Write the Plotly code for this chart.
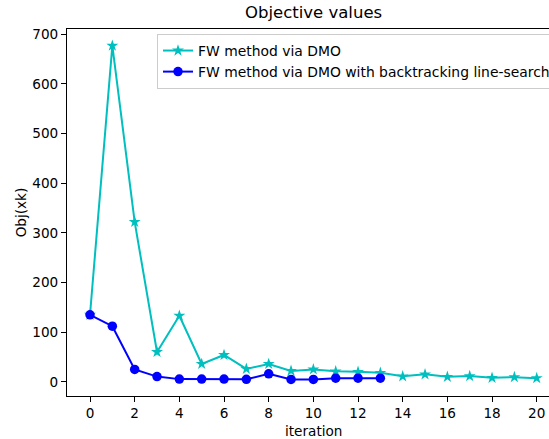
import plotly.graph_objects as go

iterations_fw = list(range(21))
obj_fw = [135, 677, 322, 60, 133, 36, 54, 26, 36, 22, 25, 21, 20, 18, 11, 15, 10, 11.5, 8, 9.4, 7.4]
iterations_bt = list(range(14))
obj_bt = [135, 112, 25, 10.5, 5.4, 5.4, 5.4, 5, 16, 4.8, 4.8, 7.4, 7.4, 7.4]
x_ticks = list(range(0, 21, 2))
y_ticks = list(range(0, 701, 100))

FONT = "DejaVu Sans"
FS = 13.6

fig = go.Figure()
fig.add_trace(go.Scatter(
    x=iterations_fw, y=obj_fw, mode="lines+markers", name="FW method via DMO",
    line=dict(color="#00BFBF", width=2),
    marker=dict(symbol="star", size=9, color="#00BFBF"),
))
fig.add_trace(go.Scatter(
    x=iterations_bt, y=obj_bt, mode="lines+markers",
    name="FW method via DMO with backtracking line-search",
    line=dict(color="#0000FF", width=2),
    marker=dict(symbol="circle", size=9.5, color="#0000FF"),
))

L, T, B = 67, 29, 43
W, H = 549, 439
plot_w = W - L

fig.update_layout(
    width=W, height=H,
    margin=dict(l=L, r=0, t=T, b=B, autoexpand=False),
    paper_bgcolor="white", plot_bgcolor="white",
    font=dict(family=FONT, size=FS, color="black"),
    showlegend=True,
    legend=dict(
        x=(157 - L) / plot_w, y=(H - B - 34) / (H - T - B),
        xanchor="left", yanchor="top",
        bgcolor="rgba(255,255,255,0.8)", bordercolor="#cccccc", borderwidth=1,
        font=dict(family=FONT, size=13.9, color="black"),
        itemwidth=30, tracegroupgap=0,
    ),
    xaxis=dict(
        range=[-1.03, 20.55], tickvals=x_ticks, ticks="outside", ticklen=5, tickwidth=1,
        tickcolor="black", showline=True, linecolor="black", linewidth=1, mirror=True,
        showgrid=False, zeroline=False, tickfont=dict(family=FONT, size=FS),
    ),
    yaxis=dict(
        range=[-28.6, 710.6], tickvals=y_ticks, ticks="outside", ticklen=5, tickwidth=1,
        tickcolor="black", showline=True, linecolor="black", linewidth=1, mirror=False,
        showgrid=False, zeroline=False, tickfont=dict(family=FONT, size=FS),
        title=dict(text="Obj(xk)", font=dict(family=FONT, size=FS), standoff=2),
    ),
    annotations=[
        dict(text="Objective values", xref="paper", yref="paper",
             x=(313 - L) / plot_w, y=1, yshift=5, xanchor="center", yanchor="bottom",
             showarrow=False, font=dict(family=FONT, size=16.5, color="black")),
        dict(text="iteration", xref="paper", yref="paper",
             x=(313 - L) / plot_w, y=0, yshift=-25, xanchor="center", yanchor="top",
             showarrow=False, font=dict(family=FONT, size=FS, color="black")),
    ],
)

fig.write_html("out.html", config={"displayModeBar": False},
               post_script="document.body.style.margin='0';document.body.style.overflow='hidden';")
